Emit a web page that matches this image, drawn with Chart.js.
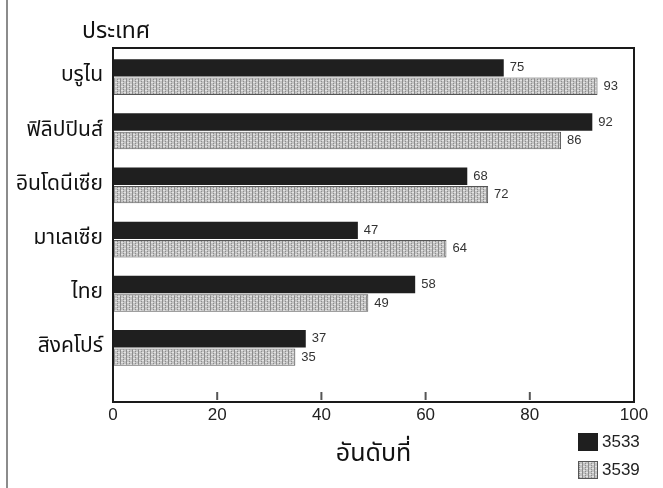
<!DOCTYPE html>
<html>
<head>
<meta charset="utf-8">
<script src="https://cdn.jsdelivr.net/npm/chart.js@4.4.0/dist/chart.umd.min.js"></script>
<style>
  html, body { margin: 0; padding: 0; background: #fff; }
  #wrap { width: 663px; height: 488px; }
</style>
</head>
<body>
<div id="wrap"><canvas id="rankChart" width="663" height="488"></canvas></div>
<script>
const countries = ["บรูไน", "ฟิลิปปินส์", "อินโดนีเซีย", "มาเลเซีย", "ไทย", "สิงคโปร์"];
const rank3533 = [75, 92, 68, 47, 58, 37];
const rank3539 = [93, 86, 72, 64, 49, 35];
const seriesNames = ["3533", "3539"];
const xTicks = [0, 20, 40, 60, 80, 100];

const thaiFont = "'Noto Sans Thai', 'Noto Sans', 'DejaVu Sans', sans-serif";
const numFont = "'Liberation Sans', Arial, sans-serif";

// grey dotted fill like the scanned hatch
function makePattern() {
    const c = document.createElement("canvas");
    c.width = 6;
    c.height = 4;
    const g = c.getContext("2d");
    g.fillStyle = "#c4c4c4";
    g.fillRect(0, 0, 6, 4);
    g.fillStyle = "#8c8c8c";
    g.fillRect(0, 0, 1, 4);
    g.fillRect(3, 1, 1, 1);
    g.fillRect(3, 3, 1, 1);
    g.fillStyle = "#e2e2e2";
    g.fillRect(1, 2, 2, 1);
    g.fillRect(4, 0, 2, 1);
    return g.createPattern(c, "repeat");
}
const hatch = makePattern();

const framePlugin = {
    id: "frame",
    beforeDraw(chart) {
        const ctx = chart.ctx;
        ctx.save();
        ctx.fillStyle = "#fff";
        ctx.fillRect(0, 0, chart.width, chart.height);
        ctx.restore();
    },
    afterDatasetsDraw(chart) {
        const ctx = chart.ctx;
        ctx.save();
        ctx.font = "13px " + numFont;
        ctx.fillStyle = "#333";
        ctx.textBaseline = "middle";
        ctx.textAlign = "left";
        chart.data.datasets.forEach((ds, i) => {
            chart.getDatasetMeta(i).data.forEach((bar, j) => {
                ctx.fillText(String(ds.data[j]), bar.x + 6, bar.y);
            });
        });
        ctx.restore();
    },
    afterDraw(chart) {
        const { ctx, chartArea: a } = chart;
        const x = chart.scales.x;
        const top = a.top - 2;
        const bottom = a.bottom + 27;
        ctx.save();

        // scan edge on the left
        ctx.strokeStyle = "#666";
        ctx.lineWidth = 1.5;
        ctx.beginPath();
        ctx.moveTo(7, 0);
        ctx.lineTo(7, chart.height);
        ctx.stroke();

        // plot frame
        ctx.strokeStyle = "#1a1a1a";
        ctx.lineWidth = 2;
        ctx.strokeRect(a.left, top, a.right - a.left, bottom - top);

        // small inside ticks
        ctx.strokeStyle = "#555";
        xTicks.slice(1, -1).forEach(v => {
            const px = x.getPixelForValue(v);
            ctx.beginPath();
            ctx.moveTo(px, bottom - 10);
            ctx.lineTo(px, bottom - 2);
            ctx.stroke();
        });

        // y axis heading
        ctx.fillStyle = "#111";
        ctx.font = "23px " + thaiFont;
        ctx.textAlign = "left";
        ctx.textBaseline = "middle";
        ctx.fillText("ประเทศ", 82, 33);

        // legend
        const fills = ["#1f1f1f", hatch];
        ctx.font = "17px " + numFont;
        seriesNames.forEach((name, i) => {
            const ly = 442 + i * 28;
            ctx.fillStyle = fills[i];
            ctx.fillRect(578, ly - 9, 20, 18);
            if (i === 1) {
                ctx.strokeStyle = "#555";
                ctx.lineWidth = 1;
                ctx.strokeRect(578.5, ly - 8.5, 19, 17);
            }
            ctx.fillStyle = "#222";
            ctx.fillText(name, 602, ly);
        });
        ctx.restore();
    }
};

new Chart(document.getElementById("rankChart"), {
    type: "bar",
    data: {
        labels: countries,
        datasets: [
            {
                label: seriesNames[0],
                data: rank3533,
                backgroundColor: "#1f1f1f",
                borderWidth: 0,
                categoryPercentage: 0.68,
                barPercentage: 0.95
            },
            {
                label: seriesNames[1],
                data: rank3539,
                backgroundColor: hatch,
                borderColor: "#555",
                borderWidth: 1,
                categoryPercentage: 0.68,
                barPercentage: 0.95
            }
        ]
    },
    options: {
        indexAxis: "y",
        responsive: false,
        animation: false,
        layout: { padding: { top: 50, right: 29, left: 0, bottom: 0 } },
        plugins: {
            legend: { display: false },
            tooltip: { enabled: false }
        },
        scales: {
            x: {
                min: 0,
                max: 100,
                grid: { display: false, drawTicks: true, tickLength: 27 },
                border: { display: false },
                ticks: {
                    stepSize: 20,
                    padding: 3,
                    color: "#222",
                    font: { family: numFont, size: 17 }
                },
                title: {
                    display: true,
                    text: "อันดับที่",
                    color: "#111",
                    font: { family: thaiFont, size: 25 },
                    padding: { top: 0, bottom: 17 }
                },
                afterFit(scale) { scale.height = 113; }
            },
            y: {
                grid: { display: false, drawTicks: false },
                border: { display: false },
                ticks: {
                    padding: 10,
                    color: "#111",
                    font: { family: thaiFont, size: 21 }
                },
                afterFit(scale) { scale.width = 113; }
            }
        }
    },
    plugins: [framePlugin]
});
</script>
</body>
</html>
